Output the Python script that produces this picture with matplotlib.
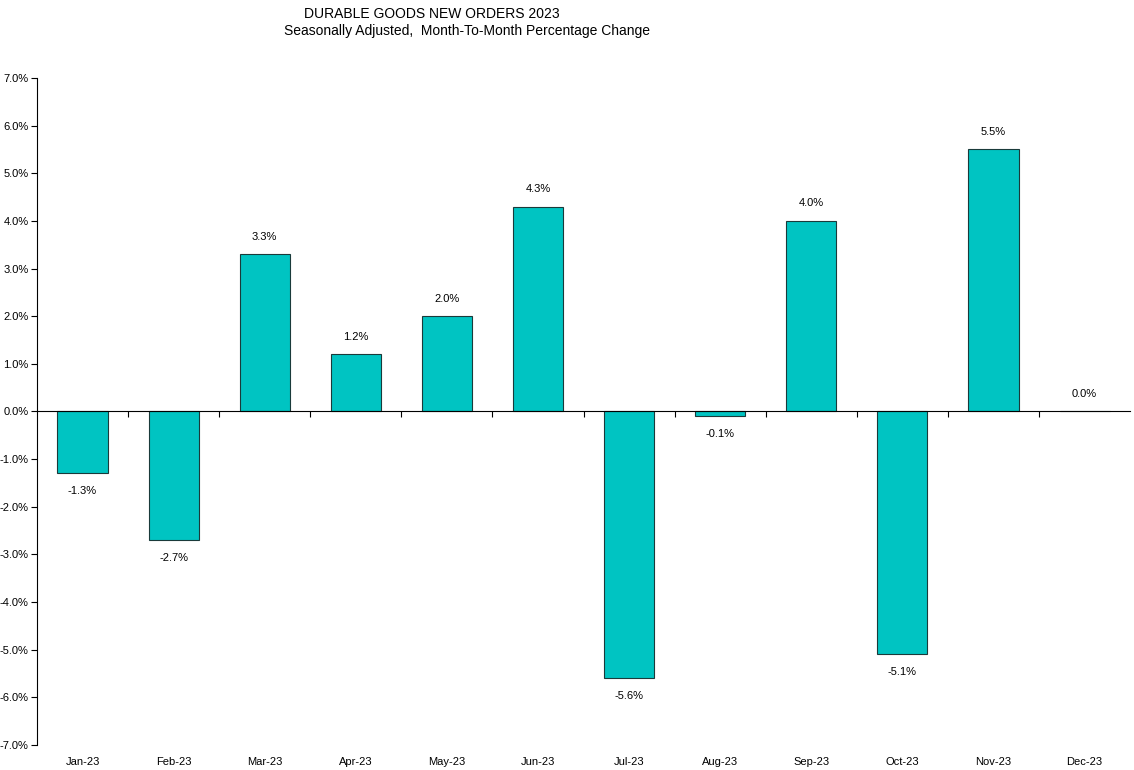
import numpy as np
import matplotlib.pyplot as plt
from matplotlib.ticker import FuncFormatter

months = ['Jan-23', 'Feb-23', 'Mar-23', 'Apr-23', 'May-23', 'Jun-23',
          'Jul-23', 'Aug-23', 'Sep-23', 'Oct-23', 'Nov-23', 'Dec-23']
pct_change = [-1.3, -2.7, 3.3, 1.2, 2.0, 4.3, -5.6, -0.1, 4.0, -5.1, 5.5, 0.0]
y_ticks = [-7, -6, -5, -4, -3, -2, -1, 0, 1, 2, 3, 4, 5, 6, 7]

plt.rcParams['font.family'] = ['Liberation Sans Narrow', 'Liberation Sans', 'DejaVu Sans']

fig = plt.figure(figsize=(11.34, 7.70), dpi=100)
ax = fig.add_axes([0.0326, 0.0325, 0.9640, 0.8662])

x = np.arange(len(months))
ax.bar(x, pct_change, width=0.55, color='#00C4C2', edgecolor='#1a3a3a', linewidth=0.8)

for xi, v in zip(x, pct_change):
    if v < 0:
        ax.annotate(f'{v:.1f}%', (xi, v), xytext=(0, -9), textcoords='offset points',
                    ha='center', va='top', fontsize=8)
    else:
        ax.annotate(f'{v:.1f}%', (xi, v), xytext=(0, 9), textcoords='offset points',
                    ha='center', va='bottom', fontsize=8)

ax.set_xlim(-0.5, len(months) - 0.5)
ax.set_ylim(-7, 7)
ax.set_yticks(y_ticks)
ax.yaxis.set_major_formatter(FuncFormatter(lambda v, p: f'{v:.1f}%'))
ax.tick_params(axis='y', direction='out', length=4, width=0.8, labelsize=8, pad=2)

# x axis sits on zero, ticks at category boundaries
ax.spines['bottom'].set_position(('data', 0))
ax.spines['top'].set_visible(False)
ax.spines['right'].set_visible(False)
ax.spines['left'].set_linewidth(0.8)
ax.spines['bottom'].set_linewidth(0.8)
ax.set_xticks(np.arange(0.5, len(months) - 0.5, 1))
ax.set_xticklabels([])
ax.tick_params(axis='x', direction='out', length=4, width=0.8)

for xi, m in zip(x, months):
    ax.text(xi, -0.018, m, transform=ax.get_xaxis_transform(), ha='center', va='top', fontsize=8)

fig.text(432 / 1134, 1 - 14 / 770, 'DURABLE GOODS NEW ORDERS 2023', ha='center', va='center', fontsize=10)
fig.text(467 / 1134, 1 - 31 / 770, 'Seasonally Adjusted,  Month-To-Month Percentage Change',
         ha='center', va='center', fontsize=10)

plt.savefig('out.png', dpi=100)
